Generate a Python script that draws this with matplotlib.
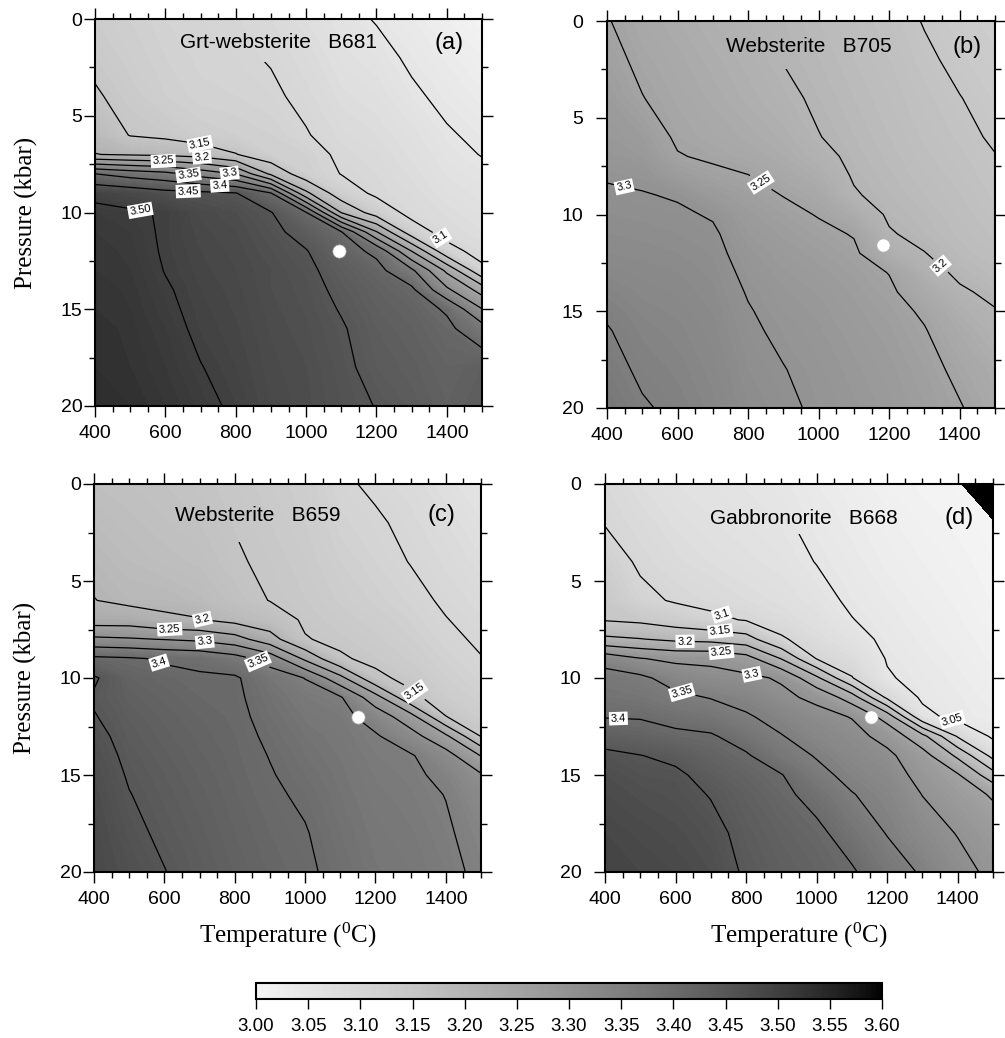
import numpy as np
import matplotlib
matplotlib.use("Agg")
import matplotlib.pyplot as plt
import matplotlib.cm as cm
from matplotlib.colors import ListedColormap, Normalize
from matplotlib.path import Path
from matplotlib.ticker import MultipleLocator

plt.rcParams['font.family'] = ['Liberation Sans', 'DejaVu Sans']

# grid nodes
temps = [400, 500, 600, 700, 800, 900, 1000, 1100, 1200, 1300, 1400, 1500]
press = [0, 2, 4, 6, 7, 8, 9, 10, 11, 12, 13, 14, 15, 16, 18, 20]

# density (g/cm3); one list per temperature, pressure from 0 to 20 kbar
rho_a = [
    [3.13, 3.14, 3.155, 3.185, 3.201, 3.40, 3.49, 3.51, 3.515, 3.52, 3.52, 3.525, 3.525, 3.53, 3.53, 3.535],
    [3.12, 3.125, 3.135, 3.148, 3.195, 3.38, 3.48, 3.505, 3.51, 3.512, 3.515, 3.518, 3.52, 3.522, 3.525, 3.53],
    [3.11, 3.115, 3.12, 3.14, 3.19, 3.365, 3.465, 3.497, 3.496, 3.497, 3.499, 3.503, 3.506, 3.51, 3.515, 3.52],
    [3.105, 3.108, 3.112, 3.125, 3.18, 3.33, 3.46, 3.478, 3.482, 3.485, 3.487, 3.49, 3.492, 3.494, 3.501, 3.508],
    [3.101, 3.105, 3.11, 3.12, 3.152, 3.298, 3.452, 3.47, 3.475, 3.478, 3.48, 3.482, 3.484, 3.486, 3.49, 3.495],
    [3.09, 3.098, 3.105, 3.115, 3.12, 3.19, 3.402, 3.452, 3.46, 3.465, 3.47, 3.47, 3.472, 3.474, 3.477, 3.48],
    [3.075, 3.085, 3.093, 3.102, 3.115, 3.12, 3.21, 3.402, 3.435, 3.452, 3.458, 3.462, 3.464, 3.466, 3.47, 3.472],
    [3.06, 3.068, 3.077, 3.087, 3.093, 3.099, 3.12, 3.198, 3.402, 3.42, 3.435, 3.442, 3.448, 3.453, 3.457, 3.46],
    [3.048, 3.06, 3.07, 3.08, 3.085, 3.09, 3.093, 3.125, 3.252, 3.39, 3.415, 3.425, 3.43, 3.435, 3.44, 3.449],
    [3.035, 3.045, 3.055, 3.068, 3.073, 3.078, 3.084, 3.088, 3.12, 3.25, 3.36, 3.41, 3.42, 3.425, 3.432, 3.438],
    [3.02, 3.033, 3.043, 3.053, 3.058, 3.064, 3.07, 3.078, 3.085, 3.115, 3.24, 3.31, 3.395, 3.41, 3.42, 3.425],
    [3.005, 3.02, 3.032, 3.044, 3.049, 3.056, 3.062, 3.068, 3.075, 3.085, 3.11, 3.23, 3.302, 3.37, 3.43, 3.435],
]
rho_b = [
    [3.252, 3.26, 3.27, 3.28, 3.287, 3.297, 3.305, 3.31, 3.315, 3.32, 3.328, 3.337, 3.346, 3.352, 3.36, 3.37],
    [3.235, 3.243, 3.251, 3.27, 3.28, 3.293, 3.302, 3.308, 3.313, 3.318, 3.323, 3.328, 3.333, 3.338, 3.345, 3.353],
    [3.225, 3.232, 3.238, 3.245, 3.252, 3.27, 3.297, 3.305, 3.31, 3.315, 3.32, 3.324, 3.328, 3.332, 3.338, 3.344],
    [3.215, 3.222, 3.228, 3.236, 3.245, 3.258, 3.275, 3.297, 3.305, 3.309, 3.313, 3.316, 3.319, 3.322, 3.327, 3.332],
    [3.205, 3.212, 3.218, 3.228, 3.236, 3.251, 3.262, 3.272, 3.28, 3.287, 3.293, 3.298, 3.302, 3.305, 3.31, 3.315],
    [3.195, 3.199, 3.207, 3.218, 3.225, 3.236, 3.249, 3.26, 3.268, 3.275, 3.281, 3.286, 3.29, 3.294, 3.301, 3.306],
    [3.185, 3.19, 3.195, 3.201, 3.21, 3.222, 3.235, 3.248, 3.258, 3.266, 3.273, 3.279, 3.283, 3.286, 3.291, 3.295],
    [3.175, 3.18, 3.185, 3.19, 3.193, 3.197, 3.203, 3.225, 3.248, 3.256, 3.263, 3.268, 3.272, 3.276, 3.282, 3.286],
    [3.165, 3.17, 3.175, 3.18, 3.183, 3.186, 3.19, 3.195, 3.203, 3.22, 3.249, 3.256, 3.262, 3.266, 3.272, 3.277],
    [3.148, 3.156, 3.163, 3.168, 3.172, 3.176, 3.18, 3.185, 3.19, 3.201, 3.215, 3.23, 3.245, 3.252, 3.26, 3.265],
    [3.135, 3.142, 3.151, 3.158, 3.162, 3.166, 3.17, 3.174, 3.178, 3.183, 3.193, 3.205, 3.218, 3.228, 3.243, 3.252],
    [3.125, 3.132, 3.139, 3.146, 3.151, 3.154, 3.158, 3.163, 3.168, 3.174, 3.182, 3.192, 3.202, 3.21, 3.225, 3.235],
]
rho_c = [
    [3.17, 3.18, 3.19, 3.201, 3.225, 3.31, 3.41, 3.455, 3.446, 3.452, 3.46, 3.465, 3.47, 3.473, 3.478, 3.48],
    [3.165, 3.172, 3.18, 3.19, 3.225, 3.305, 3.405, 3.42, 3.428, 3.434, 3.438, 3.443, 3.447, 3.451, 3.458, 3.465],
    [3.16, 3.166, 3.173, 3.19, 3.207, 3.298, 3.395, 3.412, 3.418, 3.423, 3.427, 3.431, 3.435, 3.438, 3.444, 3.451],
    [3.153, 3.16, 3.168, 3.182, 3.202, 3.29, 3.39, 3.405, 3.41, 3.415, 3.418, 3.421, 3.424, 3.427, 3.432, 3.437],
    [3.146, 3.149, 3.153, 3.165, 3.185, 3.27, 3.37, 3.405, 3.406, 3.408, 3.41, 3.412, 3.414, 3.416, 3.42, 3.424],
    [3.135, 3.14, 3.145, 3.149, 3.17, 3.22, 3.33, 3.375, 3.385, 3.39, 3.395, 3.399, 3.402, 3.405, 3.41, 3.414],
    [3.125, 3.13, 3.135, 3.14, 3.145, 3.152, 3.24, 3.349, 3.365, 3.373, 3.38, 3.385, 3.39, 3.395, 3.402, 3.406],
    [3.105, 3.112, 3.12, 3.128, 3.135, 3.142, 3.155, 3.265, 3.355, 3.365, 3.37, 3.374, 3.377, 3.38, 3.385, 3.39],
    [3.095, 3.104, 3.11, 3.118, 3.125, 3.132, 3.14, 3.16, 3.27, 3.33, 3.355, 3.36, 3.364, 3.367, 3.372, 3.376],
    [3.085, 3.093, 3.099, 3.108, 3.114, 3.12, 3.128, 3.138, 3.16, 3.27, 3.32, 3.354, 3.358, 3.361, 3.366, 3.37],
    [3.07, 3.08, 3.088, 3.096, 3.101, 3.106, 3.113, 3.12, 3.13, 3.151, 3.26, 3.32, 3.34, 3.349, 3.355, 3.36],
    [3.055, 3.066, 3.076, 3.086, 3.091, 3.096, 3.101, 3.108, 3.116, 3.127, 3.148, 3.248, 3.305, 3.32, 3.335, 3.342],
]
rho_d = [
    [3.09, 3.098, 3.12, 3.14, 3.147, 3.21, 3.33, 3.37, 3.38, 3.398, 3.43, 3.46, 3.47, 3.475, 3.485, 3.49],
    [3.075, 3.085, 3.094, 3.11, 3.14, 3.202, 3.302, 3.36, 3.375, 3.397, 3.42, 3.451, 3.46, 3.468, 3.478, 3.485],
    [3.065, 3.073, 3.082, 3.096, 3.125, 3.19, 3.29, 3.33, 3.36, 3.385, 3.41, 3.44, 3.458, 3.463, 3.472, 3.48],
    [3.06, 3.066, 3.074, 3.088, 3.11, 3.185, 3.29, 3.315, 3.348, 3.375, 3.405, 3.42, 3.435, 3.448, 3.462, 3.47],
    [3.054, 3.06, 3.067, 3.08, 3.097, 3.17, 3.27, 3.31, 3.335, 3.355, 3.38, 3.405, 3.418, 3.428, 3.438, 3.445],
    [3.048, 3.054, 3.061, 3.072, 3.082, 3.105, 3.198, 3.295, 3.31, 3.335, 3.352, 3.37, 3.402, 3.41, 3.423, 3.43],
    [3.035, 3.042, 3.049, 3.06, 3.068, 3.08, 3.098, 3.21, 3.29, 3.315, 3.33, 3.347, 3.362, 3.385, 3.41, 3.42],
    [3.025, 3.032, 3.038, 3.045, 3.051, 3.062, 3.08, 3.102, 3.225, 3.298, 3.315, 3.325, 3.338, 3.352, 3.38, 3.405],
    [3.015, 3.022, 3.028, 3.035, 3.039, 3.043, 3.048, 3.053, 3.09, 3.23, 3.285, 3.31, 3.322, 3.333, 3.348, 3.372],
    [3.008, 3.014, 3.02, 3.026, 3.03, 3.033, 3.037, 3.041, 3.044, 3.062, 3.215, 3.27, 3.285, 3.299, 3.32, 3.345],
    [3.004, 3.008, 3.013, 3.018, 3.021, 3.024, 3.028, 3.032, 3.036, 3.038, 3.095, 3.19, 3.255, 3.272, 3.298, 3.315],
    [2.94, 3.002, 3.005, 3.009, 3.012, 3.015, 3.018, 3.022, 3.026, 3.031, 3.043, 3.085, 3.17, 3.245, 3.275, 3.29],
]

rock_names = ['Grt-websterite   B681', 'Websterite   B705', 'Websterite   B659', 'Gabbronorite   B668']
panel_tags = ['(a)', '(b)', '(c)', '(d)']
sample_T = [1094, 1183, 1151, 1153]
sample_P = [12.0, 11.6, 12.0, 12.0]

contour_levels = [3.05, 3.1, 3.15, 3.2, 3.25, 3.3, 3.35, 3.4, 3.45, 3.5]
cbar_ticks = [3.00, 3.05, 3.10, 3.15, 3.20, 3.25, 3.30, 3.35, 3.40, 3.45, 3.50, 3.55, 3.60]

# where the contour labels sit: level -> (T, P)
label_spots = [
    {3.15: (698, 6.5), 3.2: (703, 7.3), 3.25: (594, 7.5), 3.3: (783, 7.9), 3.35: (665, 8.15),
     3.4: (755, 8.45), 3.45: (665, 8.85), 3.5: (533, 9.45), 3.1: (1380, 11.4)},
    {3.3: (452, 8.3), 3.25: (834, 8.4), 3.2: (1343, 12.7)},
    {3.2: (705, 7.1), 3.25: (615, 7.5), 3.3: (715, 8.1), 3.4: (587, 9.1), 3.35: (867, 9.1), 3.15: (1303, 10.9)},
    {3.1: (726, 7.0), 3.15: (726, 7.7), 3.2: (627, 8.1), 3.25: (730, 8.7), 3.3: (820, 9.5),
     3.35: (617, 10.8), 3.4: (438, 12.1), 3.05: (1382, 12.35)},
]
# area under each panel title where the contour lines are not drawn (T0, T1, Pmax)
title_gaps = [(627, 1180, 2.2), (730, 1215, 2.5), (620, 1110, 3.0), (680, 1245, 2.6)]

W, H = 1005, 1038
fig = plt.figure(figsize=(W / 100, H / 100), dpi=100)
boxes = [(95, 19, 482, 406), (607, 21, 995, 408), (94, 484, 481, 872), (605, 484, 993, 872)]
title_xy = [(0.473, 0.939), (0.52, 0.933), (0.424, 0.92), (0.512, 0.912)]
tag_xy = [(0.915, 0.939), (0.928, 0.933), (0.899, 0.92), (0.912, 0.912)]

# light grey to black, lifted a little in the dark end like the printed scale
g = 0.96 * (1 - np.linspace(0, 1, 256)) ** 0.75
cmap = ListedColormap(np.c_[g, g, g])
cmap.set_under('black')
norm = Normalize(3.0, 3.6)

TT, PP = np.meshgrid(temps, press)
fields = [rho_a, rho_b, rho_c, rho_d]


def fmt(v):
    return '3.50' if abs(v - 3.5) < 1e-6 else f'{v:g}'


for i in range(4):
    l, t, r, b = boxes[i]
    ax = fig.add_axes([l / W, 1 - b / H, (r - l) / W, (b - t) / H])
    Z = np.array(fields[i]).T

    ax.contourf(TT, PP, Z, levels=np.linspace(3.0, 3.6, 121), cmap=cmap, norm=norm, extend='min')

    # contour lines stop under the rock name
    T0, T1, Pm = title_gaps[i]
    x0, x1, y0 = (T0 - 400) / 1100, (T1 - 400) / 1100, 1 - Pm / 20
    verts = [(0, 0), (1, 0), (1, 1), (x1, 1), (x1, y0), (x0, y0), (x0, 1), (0, 1), (0, 0)]
    codes = [Path.MOVETO] + [Path.LINETO] * 7 + [Path.CLOSEPOLY]
    clip = Path(verts, codes)

    for lev in contour_levels:
        if not (Z.min() < lev < Z.max()):
            continue
        cs = ax.contour(TT, PP, Z, levels=[lev], colors='black', linewidths=0.9)
        cs.set_clip_path(clip, ax.transAxes)
        if lev in label_spots[i]:
            txts = ax.clabel(cs, manual=[label_spots[i][lev]], inline=True, fmt=fmt,
                             fontsize=8, inline_spacing=2)
            for tx in txts:
                tx.set_bbox(dict(boxstyle='square,pad=0.15', fc='white', ec='none'))

    ax.plot(sample_T[i], sample_P[i], 'o', ms=9.5, mfc='white', mec='0.7', mew=0.5, zorder=6)

    ax.text(*title_xy[i], rock_names[i], transform=ax.transAxes, ha='center', va='center', fontsize=15)
    ax.text(*tag_xy[i], panel_tags[i], transform=ax.transAxes, ha='center', va='center', fontsize=17)

    ax.set_xlim(400, 1500)
    ax.set_ylim(20, 0)
    ax.xaxis.set_major_locator(MultipleLocator(200))
    ax.xaxis.set_minor_locator(MultipleLocator(50))
    ax.yaxis.set_major_locator(MultipleLocator(5))
    ax.yaxis.set_minor_locator(MultipleLocator(2.5))
    ypad = 1 if i % 2 == 0 else 9
    ax.tick_params(axis='both', which='both', direction='out', top=True, right=True, width=1)
    ax.tick_params(which='major', length=8, labelsize=14)
    ax.tick_params(which='minor', length=4.3)
    ax.tick_params(axis='x', which='major', pad=6)
    ax.tick_params(axis='y', which='major', pad=ypad)
    for sp in ax.spines.values():
        sp.set_linewidth(1.5)

    if i % 2 == 0:
        ax.set_ylabel('Pressure (kbar)', fontsize=18, family='Liberation Serif')
        ax.yaxis.set_label_coords(-0.147, 0.5)
    if i >= 2:
        ax.set_xlabel('Temperature ($\\mathregular{^0}$C)', fontsize=18, family='Liberation Serif')
        ax.xaxis.set_label_coords(0.5, -0.127)

cax = fig.add_axes([256 / W, 1 - 999 / H, 626 / W, 16 / H])
cb = fig.colorbar(cm.ScalarMappable(norm=norm, cmap=cmap), cax=cax, orientation='horizontal',
                  ticks=cbar_ticks)
cb.ax.set_xticklabels([f'{v:.2f}' for v in cbar_ticks])
cb.ax.tick_params(length=7, width=1, labelsize=13.5, pad=7)
cb.outline.set_linewidth(1.5)

fig.savefig('out.png', dpi=100, facecolor='white')
